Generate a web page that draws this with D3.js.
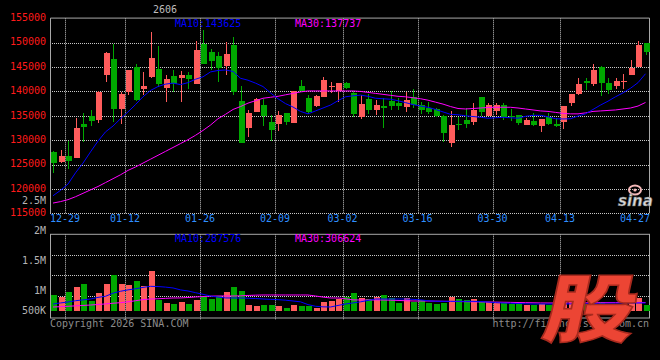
<!DOCTYPE html>
<html><head><meta charset="utf-8">
<script src="https://cdn.jsdelivr.net/npm/d3@7"></script>
<style>html,body{margin:0;padding:0;background:#000;} svg{display:block}</style>
</head><body><svg id="c" width="660" height="360"></svg>
<script>
const dates = ["12-25","12-26","12-29","12-30","12-31","01-05","01-06","01-07","01-08","01-09",
"01-12","01-13","01-14","01-15","01-16","01-19","01-20","01-21","01-22","01-23",
"01-26","01-27","01-28","01-29","01-30","02-02","02-03","02-04","02-05","02-06",
"02-09","02-10","02-11","02-12","02-13","02-24","02-25","02-26","02-27","03-02",
"03-03","03-04","03-05","03-06","03-09","03-10","03-11","03-12","03-13","03-16",
"03-17","03-18","03-19","03-20","03-23","03-24","03-25","03-26","03-27","03-30",
"03-31","04-01","04-02","04-03","04-07","04-08","04-09","04-10","04-13","04-14",
"04-15","04-16","04-17","04-20","04-21","04-22","04-23","04-24","04-27","04-28"];
const opens = [127670,125620,126790,126440,133400,134980,134100,143380,146660,136420,
139960,145080,140450,142970,144610,140780,143180,142830,143380,141600,
149730,148100,147280,145290,149530,138060,132580,135860,137240,133810,
133340,135530,133490,141190,138610,137030,138940,141070,140100,141680,
139760,134840,138400,136210,137030,138060,137710,136760,138940,137240,
136680,136350,134980,129510,133280,134160,133810,138810,134980,136070,
137240,134980,135190,133140,134020,132990,134720,133340,133810,137710,
139490,142150,141540,144960,141680,141190,141890,143380,145080,150000];
const closes = [125410,126790,125760,132520,132790,134020,139960,147950,136420,139430,
144410,138260,141130,146930,141600,142500,141600,143380,142560,148510,
145640,146310,144760,147690,139960,129510,135660,138400,135040,132110,
135190,133810,140100,140100,135860,139080,142310,141190,141680,140780,
135390,137440,136210,137240,136560,137030,137030,138260,137240,136210,
135860,134980,131560,133140,133080,133340,136210,135860,137240,137240,
134840,134720,133610,134160,133140,134370,133340,132990,137030,139490,
141480,141800,144410,141680,140310,142210,142150,144880,149530,148030];
const highs = [127800,128020,129860,134570,135600,136210,140100,148000,149730,139960,
144450,145640,143940,152130,149320,143380,144410,144260,144060,150350,
152600,148770,148160,150080,151230,141190,136210,138610,138470,135190,
136070,135530,140100,142310,139280,139280,142990,142010,141680,142010,
140100,139280,139430,138260,138610,140100,138610,139840,140510,137910,
137910,136560,135190,136070,134840,136680,137580,138810,137580,137580,
137580,136350,135190,134510,135530,134370,135660,134510,137030,139490,
142710,142710,145570,145230,142710,142710,143530,146460,150350,150000];
const lows = [123300,125300,124060,126300,129720,132990,133490,142010,133690,133340,
139280,138060,139280,142710,140990,137910,139960,137790,140510,141500,
145600,144410,142010,143380,139280,129500,130740,135740,132990,129860,
131970,133140,133490,140050,135330,136900,138940,139630,137790,140510,
134720,134370,135330,135190,132460,136210,136210,135740,136560,135330,
135330,134840,129720,128690,132110,132460,133140,134980,134980,135190,
134160,133960,133140,133140,132990,131760,133140,132790,132320,137090,
139280,140310,141190,139140,139490,140510,140510,143380,145080,147480];
const ma10 = [118600,119700,121000,123300,125300,127600,129800,131700,132900,134400,
135800,137300,138900,140200,141000,141500,141700,141400,141800,142500,
143000,144000,144300,144400,144100,142700,142300,141700,141000,139700,
138500,137500,136800,135900,135400,136000,136600,137200,138100,138900,
139100,139250,139000,138600,138500,138400,138100,137700,137300,137000,
136750,136300,135800,135300,135200,135000,134850,134700,134500,134600,
134700,134600,134500,134900,135100,135100,134800,134400,134350,134400,
134950,135400,136300,137200,138000,138900,139700,140650,141800,143625];
const ma30 = [117100,117400,117800,118400,119100,119800,120500,121300,122100,122900,
123800,124500,125300,126100,126900,127700,128500,129300,130100,131000,
132000,133100,134400,135300,136300,136900,137600,138100,138600,138800,
139000,139300,139600,139900,140100,140100,140100,140100,140100,140100,
140100,140000,139800,139600,139400,139200,139000,138900,138700,138500,
138200,137800,137400,136900,136500,136400,136500,136600,136700,136750,
136750,136750,136600,136400,136200,136000,135900,135700,135500,135400,
135400,135600,135900,136000,136100,136200,136400,136600,137000,137737];
const volumes = [576000,515000,684000,864000,972000,360000,648000,972000,1296000,972000,
925000,1080000,889000,1451000,396000,288000,252000,324000,252000,396000,
529000,443000,551000,684000,864000,720000,216000,180000,216000,216000,
169000,108000,216000,180000,180000,108000,324000,371000,443000,504000,
648000,468000,432000,504000,576000,468000,288000,468000,324000,396000,
288000,252000,288000,504000,432000,396000,432000,324000,324000,324000,
288000,252000,252000,216000,216000,252000,216000,252000,324000,324000,
360000,252000,288000,324000,252000,252000,252000,432000,468000,216000];
const volMa10 = [252000,290000,324000,370000,400000,430000,490000,530000,640000,710000,
760000,800000,850000,888000,880000,860000,830000,760000,720000,660000,
600000,540000,500000,470000,468000,468000,460000,450000,432000,420000,
408000,390000,360000,330000,230000,170000,150000,144000,200000,252000,
290000,330000,380000,432000,432000,432000,432000,432000,420000,400000,
370000,350000,348000,348000,348000,348000,348000,340000,320000,300000,
288000,280000,270000,260000,252000,252000,252000,252000,252000,255000,
260000,265000,270000,275000,280000,282000,285000,286000,287000,287576];
const volMa30 = [144000,155000,170000,185000,200000,215000,235000,255000,280000,300000,
330000,370000,410000,432000,440000,455000,468000,470000,485000,504000,
520000,535000,540000,540000,540000,545000,560000,570000,576000,576000,
576000,576000,576000,576000,576000,540000,500000,468000,468000,440000,
400000,396000,396000,396000,396000,390000,380000,370000,360000,360000,
360000,355000,350000,345000,340000,335000,330000,325000,324000,320000,
315000,310000,305000,300000,295000,290000,288000,288000,288000,290000,
292000,295000,297000,300000,302000,303000,304000,305000,306000,306624];
const priceTicks = [155000,150000,145000,140000,135000,130000,125000,120000,115000];
const xTickLabels = ["12-29","01-12","01-26","02-09","03-02","03-16","03-30","04-13","04-27"];
const volTickValues = [2500000,2000000,1500000,1000000,500000];
const volTickLabels = ["2.5M","2M","1.5M","1M","500K"];
const contract = "2606";

const W = 660, H = 360;
const mono = '"DejaVu Sans Mono", "Liberation Mono", monospace';
const UP = "#ff5c5c", DOWN = "#00a800", GRID = "#c8c8c8", BORDER = "#a8a8a8";
const svg = d3.select("#c");
svg.append("rect").attr("width", W).attr("height", H).attr("fill", "#000");

const P = {left: 50, right: 649, top: 18.3, bottom: 213.3};
const V = {top: 234.3, bottom: 318, base: 311};

const x = d3.scaleBand().domain(dates).range([50, 648.5]).paddingInner(0.2).paddingOuter(0);
const bw = x.bandwidth();
const cx = i => x(dates[i]) + bw / 2;
const y = d3.scaleLinear().domain([115000, 155000]).range([P.bottom, P.top]);
const yv = d3.scaleLinear().domain([0, 2800000]).range([V.base, 233.2]);
const yvLabel = d3.scaleLinear().domain([1000000, 2500000]).range([290.3, 200.5]);

const idx = d3.range(dates.length);

// ---- grids ----
const g = svg.append("g").attr("stroke", GRID).attr("stroke-dasharray", "1,1").attr("stroke-width", 1);
priceTicks.filter(v => v > 115000 && v < 155000).forEach(v => {
  g.append("line").attr("x1", P.left).attr("x2", P.right).attr("y1", Math.round(y(v)) + 0.5).attr("y2", Math.round(y(v)) + 0.5);
});
g.append("line").attr("x1", P.left).attr("x2", P.right).attr("y1", 213.5).attr("y2", 213.5);
const volGridY = d3.scaleLinear().domain([0, 4]).range([V.top, 316]);
[1, 2, 3].forEach(k => {
  g.append("line").attr("x1", P.left).attr("x2", P.right).attr("y1", Math.round(volGridY(k)) + 0.5).attr("y2", Math.round(volGridY(k)) + 0.5);
});
xTickLabels.slice(0, -1).forEach(d => {
  const xx = Math.round(x(d)) + 0.5;
  g.append("line").attr("x1", xx).attr("x2", xx).attr("y1", P.top).attr("y2", P.bottom);
  g.append("line").attr("x1", xx).attr("x2", xx).attr("y1", V.top).attr("y2", 320);
});

// ---- borders ----
const b = svg.append("g").attr("stroke", BORDER).attr("fill", "none").attr("stroke-width", 1);
b.append("path").attr("d", `M${P.left + 0.5},${P.bottom}V${P.top - 0.2}H${P.right + 0.5}V${P.bottom}`);
b.append("rect").attr("x", P.left + 0.5).attr("y", V.top).attr("width", P.right - P.left).attr("height", V.bottom - V.top);

// ---- candles ----
const cg = svg.append("g").attr("shape-rendering", "crispEdges");
idx.forEach(i => {
  const up = closes[i] >= opens[i];
  const col = up ? UP : DOWN;
  const c = Math.round(cx(i));
  cg.append("line").attr("x1", c + 0.5).attr("x2", c + 0.5).attr("y1", y(highs[i])).attr("y2", y(lows[i])).attr("stroke", col);
  const top = y(Math.max(opens[i], closes[i])), bot = y(Math.min(opens[i], closes[i]));
  cg.append("rect").attr("x", c - 2.5).attr("width", 6).attr("y", top).attr("height", Math.max(1, bot - top)).attr("fill", col);
});

// ---- volume bars ----
const vg = svg.append("g").attr("shape-rendering", "crispEdges");
idx.forEach(i => {
  const up = closes[i] >= opens[i];
  const c = Math.round(cx(i));
  vg.append("rect").attr("x", c - 2.5).attr("width", 6).attr("y", yv(volumes[i])).attr("height", V.base - yv(volumes[i])).attr("fill", up ? UP : DOWN);
});

// ---- MA lines ----
const line = (arr, sc) => d3.line().x(i => cx(i)).y(i => sc(arr[i]))(idx);
svg.append("path").attr("d", line(ma30, y)).attr("fill", "none").attr("stroke", "#ff00ff").attr("stroke-width", 1);
svg.append("path").attr("d", line(ma10, y)).attr("fill", "none").attr("stroke", "#0000ff").attr("stroke-width", 1);
svg.append("path").attr("d", line(volMa30, yv)).attr("fill", "none").attr("stroke", "#ff00ff").attr("stroke-width", 1);
svg.append("path").attr("d", line(volMa10, yv)).attr("fill", "none").attr("stroke", "#0000ff").attr("stroke-width", 1);

// ---- axes / labels ----
const yAxis = d3.axisLeft(y).tickValues(priceTicks).tickSize(0).tickPadding(4).tickFormat(d3.format("d"));
const ya = svg.append("g").attr("transform", `translate(${P.left},-1)`).call(yAxis);
ya.select(".domain").remove();
ya.selectAll("text").attr("fill", "#ff1a1a").style("font-family", mono).style("font-size", "10px");

const xAxis = d3.axisBottom(x).tickValues(xTickLabels).tickSize(0).tickPadding(0);
const xa = svg.append("g").attr("transform", `translate(${-bw / 2},215)`).call(xAxis);
xa.select(".domain").remove();
xa.selectAll("text").attr("fill", "#2f8fff").style("font-family", mono).style("font-size", "10px");

const vl = svg.append("g");
volTickValues.forEach((v, k) => {
  vl.append("text").attr("x", 46).attr("y", Math.min(yvLabel(v), 310.5)).attr("dy", "0.35em")
    .attr("text-anchor", "end").attr("fill", "#b4b4b4").style("font-family", mono).style("font-size", "10px").text(volTickLabels[k]);
});

const txt = (t, xx, yy, col, anchor) => svg.append("text").attr("x", xx).attr("y", yy).attr("dy", "0.35em")
  .attr("text-anchor", anchor || "start").attr("fill", col).style("font-family", mono).style("font-size", "10px").text(t);
txt(contract, 165, 9.5, "#bdbdbd", "middle");
txt("MA10:" + d3.format("d")(ma10[ma10.length - 1]), 175, 23.3, "#0000ff");
txt("MA30:" + d3.format("d")(ma30[ma30.length - 1]), 295, 23.3, "#ff00ff");
txt("MA10:" + d3.format("d")(volMa10[volMa10.length - 1]), 175, 238.3, "#0000ff");
txt("MA30:" + d3.format("d")(volMa30[volMa30.length - 1]), 295, 238.3, "#ff00ff");
txt("Copyright 2026 SINA.COM", 50, 323.5, "#8c8c8c");
txt("http://finance.sina.com.cn", 649, 323.5, "#8c8c8c", "end");

// sina logo watermark
const lg = svg.append("g").attr("transform", "translate(618,206)");
lg.append("ellipse").attr("cx", 17).attr("cy", -16).attr("rx", 6).attr("ry", 4.5).attr("fill", "none").attr("stroke", "#f4b8b8").attr("stroke-width", 2);
lg.append("circle").attr("cx", 17).attr("cy", -16).attr("r", 1.6).attr("fill", "#f4b8b8");
lg.append("text").attr("x", 0).attr("y", 0).attr("fill", "#d8d8d8").attr("stroke", "#666").attr("stroke-width", 0.5)
  .style("font-family", "'DejaVu Sans', sans-serif").style("font-weight", "bold").style("font-style", "italic").style("font-size", "15px").text("sina");

// big 股 watermark
svg.append("text").attr("transform", "translate(593,303) scale(1.24,1) skewX(-10)")
  .attr("text-anchor", "middle").attr("dominant-baseline", "central")
  .attr("fill", "#ec4534").attr("stroke", "#a82a1e").attr("stroke-width", 1.5)
  .style("font-family", "'Noto Sans CJK SC', sans-serif").style("font-weight", 900).style("font-size", "74px").text("股");
</script></body></html>
